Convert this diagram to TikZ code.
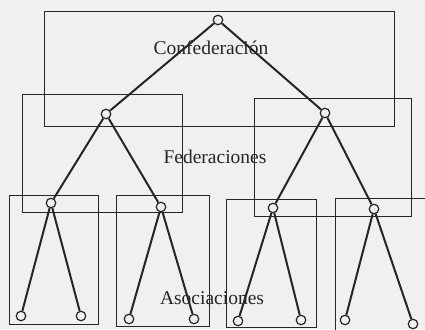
\documentclass[tikz,border=0pt]{standalone}
\usepackage{fontspec}
\setmainfont{Liberation Serif}
\begin{document}
\begin{tikzpicture}[x=1pt,y=-1pt,
  unit/.style={draw=black!85,line width=1.2pt,circle,fill=black!6,inner sep=0pt,minimum size=9.5pt},
  box/.style={draw=black!85,line width=1pt},
  edge/.style={draw=black!85,line width=2pt},
  lbl/.style={font=\fontsize{19.5}{22}\selectfont,text=black!85,inner sep=0pt}]
\fill[black!6] (0,0) rectangle (425,329);
\useasboundingbox (0,0) rectangle (425,329);
\clip (0,0) rectangle (425,329);
% boxes
\draw[box] (44,12) rectangle (394,126);
\draw[box] (22,94) rectangle (182,212);
\draw[box] (254,98) rectangle (411,216);
\draw[box] (9,195) rectangle (98,324);
\draw[box] (116,195) rectangle (209,326);
\draw[box] (226,199) rectangle (316,327);
\draw[box] (335,198) rectangle (432,331);
% nodes
\node[unit] (r) at (218,20) {};
\node[unit] (fl) at (106,114) {};
\node[unit] (fr) at (325,113) {};
\node[unit] (a1) at (51,203) {};
\node[unit] (a2) at (161,207) {};
\node[unit] (a3) at (273,208) {};
\node[unit] (a4) at (374,209) {};
\node[unit] (l1) at (21,316) {};
\node[unit] (l2) at (81,316) {};
\node[unit] (l3) at (129,319) {};
\node[unit] (l4) at (194,319) {};
\node[unit] (l5) at (238,321) {};
\node[unit] (l6) at (301,320) {};
\node[unit] (l7) at (345,320) {};
\node[unit] (l8) at (413,324) {};
% edges
\draw[edge] (r) -- (fl);
\draw[edge] (r) -- (fr);
\draw[edge] (fl) -- (a1);
\draw[edge] (fl) -- (a2);
\draw[edge] (fr) -- (a3);
\draw[edge] (fr) -- (a4);
\draw[edge] (a1) -- (l1);
\draw[edge] (a1) -- (l2);
\draw[edge] (a2) -- (l3);
\draw[edge] (a2) -- (l4);
\draw[edge] (a3) -- (l5);
\draw[edge] (a3) -- (l6);
\draw[edge] (a4) -- (l7);
\draw[edge] (a4) -- (l8);
% labels
\node[lbl] (tc) at (211,48) {Confederación};
\node[lbl] (tf) at (215,157) {Federaciones};
\node[lbl] (ta) at (212,298) {Asociaciones};
\end{tikzpicture}
\end{document}
